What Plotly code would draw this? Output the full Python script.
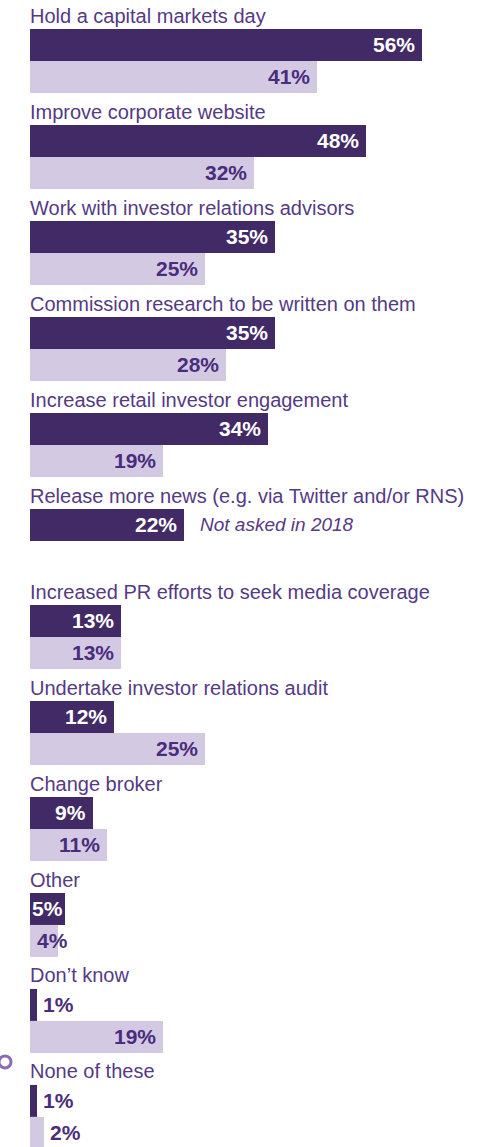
import plotly.graph_objects as go

# Survey responses: share of companies planning each action
categories = [
    "Hold a capital markets day",
    "Improve corporate website",
    "Work with investor relations advisors",
    "Commission research to be written on them",
    "Increase retail investor engagement",
    "Release more news (e.g. via Twitter and/or RNS)",
    "Increased PR efforts to seek media coverage",
    "Undertake investor relations audit",
    "Change broker",
    "Other",
    "Don\u2019t know",
    "None of these",
]
values_2019 = [56, 48, 35, 35, 34, 22, 13, 12, 9, 5, 1, 1]
values_2018 = [41, 32, 25, 28, 19, None, 13, 25, 11, 4, 19, 2]
missing_note = "Not asked in 2018"

DARK = "#412a66"
LIGHT = "#d3c9e3"
TEXT = "#553a85"
VALUE_DARK = "#4a2c7c"
FONT = "Liberation Sans"

# Each category occupies three rows: caption, current-year bar, prior-year bar
y_dark = [3 * i + 1 for i in range(len(categories))]
y_light = [3 * i + 2 for i in range(len(categories))]
y_caption = [3 * i + 0.08 for i in range(len(categories))]

fig = go.Figure()
fig.add_trace(go.Bar(
    x=values_2019, y=y_dark, orientation="h", width=1,
    marker=dict(color=DARK, line=dict(width=0)),
    hoverinfo="skip", showlegend=False,
))
fig.add_trace(go.Bar(
    x=[v if v is not None else 0 for v in values_2018], y=y_light,
    orientation="h", width=1,
    marker=dict(color=LIGHT, line=dict(width=0)),
    hoverinfo="skip", showlegend=False,
))

annotations = []
for cat, yc in zip(categories, y_caption):
    annotations.append(dict(
        x=0, y=yc, xref="x", yref="y", text=cat, showarrow=False,
        xanchor="left", yanchor="middle", xshift=-2,
        font=dict(family=FONT, size=20, color=TEXT),
    ))


def value_label(v, y, inside_color, min_anchor):
    if v <= 2:
        return dict(x=v, y=y, xref="x", yref="y", text=f"<b>{v}%</b>",
                    showarrow=False, xanchor="left", yanchor="middle",
                    xshift=4, font=dict(family=FONT, size=21, color=VALUE_DARK))
    return dict(x=max(v, min_anchor), y=y, xref="x", yref="y", text=f"<b>{v}%</b>",
                showarrow=False, xanchor="right", yanchor="middle",
                xshift=-5, font=dict(family=FONT, size=21, color=inside_color))


for v, y in zip(values_2019, y_dark):
    annotations.append(value_label(v, y, "white", 5.7))
for v, y in zip(values_2018, y_light):
    if v is not None:
        annotations.append(value_label(v, y, VALUE_DARK, 6.4))

# Note beside the bar with no prior-year figure
idx = values_2018.index(None)
annotations.append(dict(
    x=values_2019[idx], y=y_dark[idx], xref="x", yref="y",
    text=f"<i>{missing_note}</i>", showarrow=False,
    xanchor="left", yanchor="middle", xshift=14,
    font=dict(family=FONT, size=19, color=TEXT),
))

fig.update_layout(
    width=487, height=1147,
    margin=dict(l=30, r=2, t=0, b=0),
    paper_bgcolor="white", plot_bgcolor="white",
    barmode="overlay",
    xaxis=dict(range=[0, 65], visible=False, fixedrange=True),
    yaxis=dict(range=[35.44, -0.406], visible=False, fixedrange=True),
    annotations=annotations,
    shapes=[dict(
        type="circle", xref="paper", yref="y",
        xsizemode="pixel", ysizemode="pixel",
        xanchor=-25 / 455, yanchor=32.78,
        x0=-6, x1=6, y0=-6, y1=6,
        line=dict(color="#8a6bb8", width=3),
    )],
)

fig.write_html("out.html")
